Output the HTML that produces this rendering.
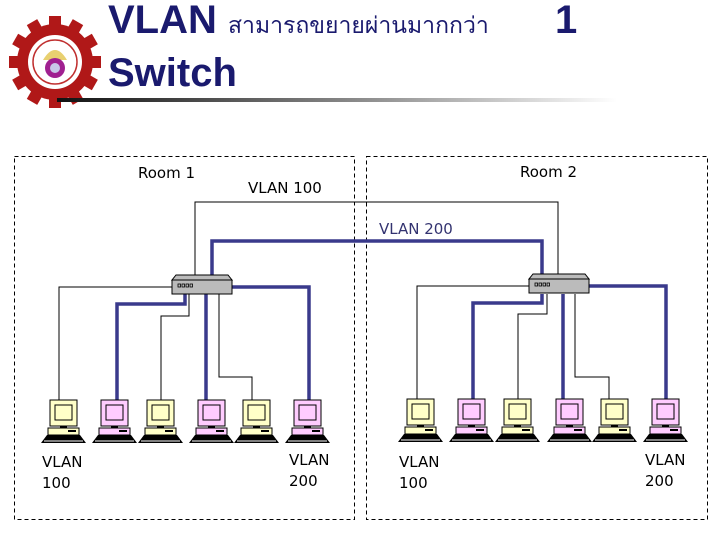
<!DOCTYPE html>
<html><head><meta charset="utf-8"><style>
body{margin:0;width:720px;height:540px;background:#fff;overflow:hidden;position:relative;font-family:"DejaVu Sans","Liberation Sans",sans-serif}
.t{position:absolute;font-size:15px;color:#000;line-height:21px}
</style></head><body>
<svg width="720" height="540" style="position:absolute;left:0;top:0">
<defs>
<linearGradient id="g" x1="0" x2="1"><stop offset="0" stop-color="#111"/><stop offset="0.6" stop-color="#999"/><stop offset="1" stop-color="#fff"/></linearGradient>
<g id="pc">
<rect x="0" y="0" width="27" height="26" stroke="#000" stroke-width="1"/>
<rect x="5" y="5" width="17" height="15" fill="none" stroke="#000" stroke-width="1"/>
<rect x="10" y="26" width="7" height="2" fill="#000"/>
<rect x="-2" y="28" width="31" height="7" stroke="#000" stroke-width="1"/>
<rect x="18" y="30" width="8" height="2" fill="#000"/>
<polygon points="-3,35 30,35 36,43 -9,43" fill="#000"/>
<line x1="-6" y1="41" x2="33" y2="41" stroke="#fff" stroke-width="1"/>
</g>
<g id="sw">
<polygon points="4,0 56,0 60,5 0,5" fill="#bbb" stroke="#000"/>
<rect x="0" y="5" width="60" height="14" fill="#bbb" stroke="#000"/>
<rect x="6" y="9" width="2.5" height="3" fill="none" stroke="#000" stroke-width=".8"/>
<rect x="10" y="9" width="2.5" height="3" fill="none" stroke="#000" stroke-width=".8"/>
<rect x="14" y="9" width="2.5" height="3" fill="none" stroke="#000" stroke-width=".8"/>
<rect x="18" y="9" width="2.5" height="3" fill="none" stroke="#000" stroke-width=".8"/>
</g>
</defs>
<g transform="translate(55,62)">
<g fill="#b01818">
<circle r="38"/>
<g id="teeth"><rect x="-6" y="-46" width="12" height="12"/><rect x="-6" y="34" width="12" height="12"/><rect x="-46" y="-6" width="12" height="12"/><rect x="34" y="-6" width="12" height="12"/></g>
<use href="#teeth" transform="rotate(30)"/><use href="#teeth" transform="rotate(60)"/>
</g>
<circle r="27" fill="#fff"/><circle r="22" fill="none" stroke="#c03030" stroke-width="1.5"/>
<path d="M-12,-2 Q0,-22 12,-2" fill="#e8d070"/>
<circle cy="6" r="10" fill="#a02090"/><circle cy="6" r="5" fill="#c8c8e8"/>
</g>
<rect x="57" y="98" width="560" height="4" fill="url(#g)"/>
<rect x="14.5" y="156.5" width="340" height="363" fill="none" stroke="#000" stroke-dasharray="4,3"/>
<rect x="366.5" y="156.5" width="341" height="363" fill="none" stroke="#000" stroke-dasharray="4,3"/>
<polyline points="195,276 195,202 558,202 558,275" fill="none" stroke="#000" stroke-width="1"/>
<polyline points="212,276 212,241 542,241 542,275" fill="none" stroke="#3a3a8c" stroke-width="3.5"/>
<g fill="none" stroke="#000" stroke-width="1">
<polyline points="59,400 59,287 172,287"/>
<polyline points="161,400 161,316 189,316 189,294"/>
<polyline points="252,400 252,377 219,377 219,294"/>
<polyline points="417,400 417,286 529,286"/>
<polyline points="518,400 518,314 547,314 547,294"/>
<polyline points="609,400 609,377 575,377 575,294"/>
</g>
<g fill="none" stroke="#3a3a8c" stroke-width="3.5">
<polyline points="117,400 117,304 185,304 185,294"/>
<polyline points="206,400 206,294"/>
<polyline points="309,400 309,287 232,287"/>
<polyline points="473,400 473,303 542,303 542,294"/>
<polyline points="563,400 563,294"/>
<polyline points="666,400 666,286 589,286"/>
</g>
<use href="#sw" x="172" y="275"/>
<use href="#sw" x="529" y="274"/>
<use href="#pc" x="50" y="400" fill="#ffffc8"/>
<use href="#pc" x="101" y="400" fill="#ffccff"/>
<use href="#pc" x="147" y="400" fill="#ffffc8"/>
<use href="#pc" x="198" y="400" fill="#ffccff"/>
<use href="#pc" x="243" y="400" fill="#ffffc8"/>
<use href="#pc" x="294" y="400" fill="#ffccff"/>
<use href="#pc" x="407" y="399" fill="#ffffc8"/>
<use href="#pc" x="458" y="399" fill="#ffccff"/>
<use href="#pc" x="504" y="399" fill="#ffffc8"/>
<use href="#pc" x="556" y="399" fill="#ffccff"/>
<use href="#pc" x="601" y="399" fill="#ffffc8"/>
<use href="#pc" x="652" y="399" fill="#ffccff"/>
</svg>
<div style="position:absolute;left:108px;top:-2px;font:bold 40px 'Liberation Sans',sans-serif;color:#1a1a6e;white-space:nowrap">VLAN <span style="font-weight:normal;font-size:23px;font-family:'Liberation Serif','Noto Serif CJK SC',serif">สามารถขยายผ่านมากกว่า</span></div>
<div style="position:absolute;left:555px;top:-2px;font:bold 40px 'Liberation Sans',sans-serif;color:#1a1a6e">1</div>
<div style="position:absolute;left:108px;top:51px;font:bold 40px 'Liberation Sans',sans-serif;color:#1a1a6e">Switch</div>
<div class="t" style="left:138px;top:163px">Room 1</div>
<div class="t" style="left:248px;top:178px">VLAN 100</div>
<div class="t" style="left:520px;top:162px">Room 2</div>
<div class="t" style="left:379px;top:219px;color:#333370">VLAN 200</div>
<div class="t" style="left:42px;top:452px">VLAN<br>100</div>
<div class="t" style="left:289px;top:450px">VLAN<br>200</div>
<div class="t" style="left:399px;top:452px">VLAN<br>100</div>
<div class="t" style="left:645px;top:450px">VLAN<br>200</div>
</body></html>
